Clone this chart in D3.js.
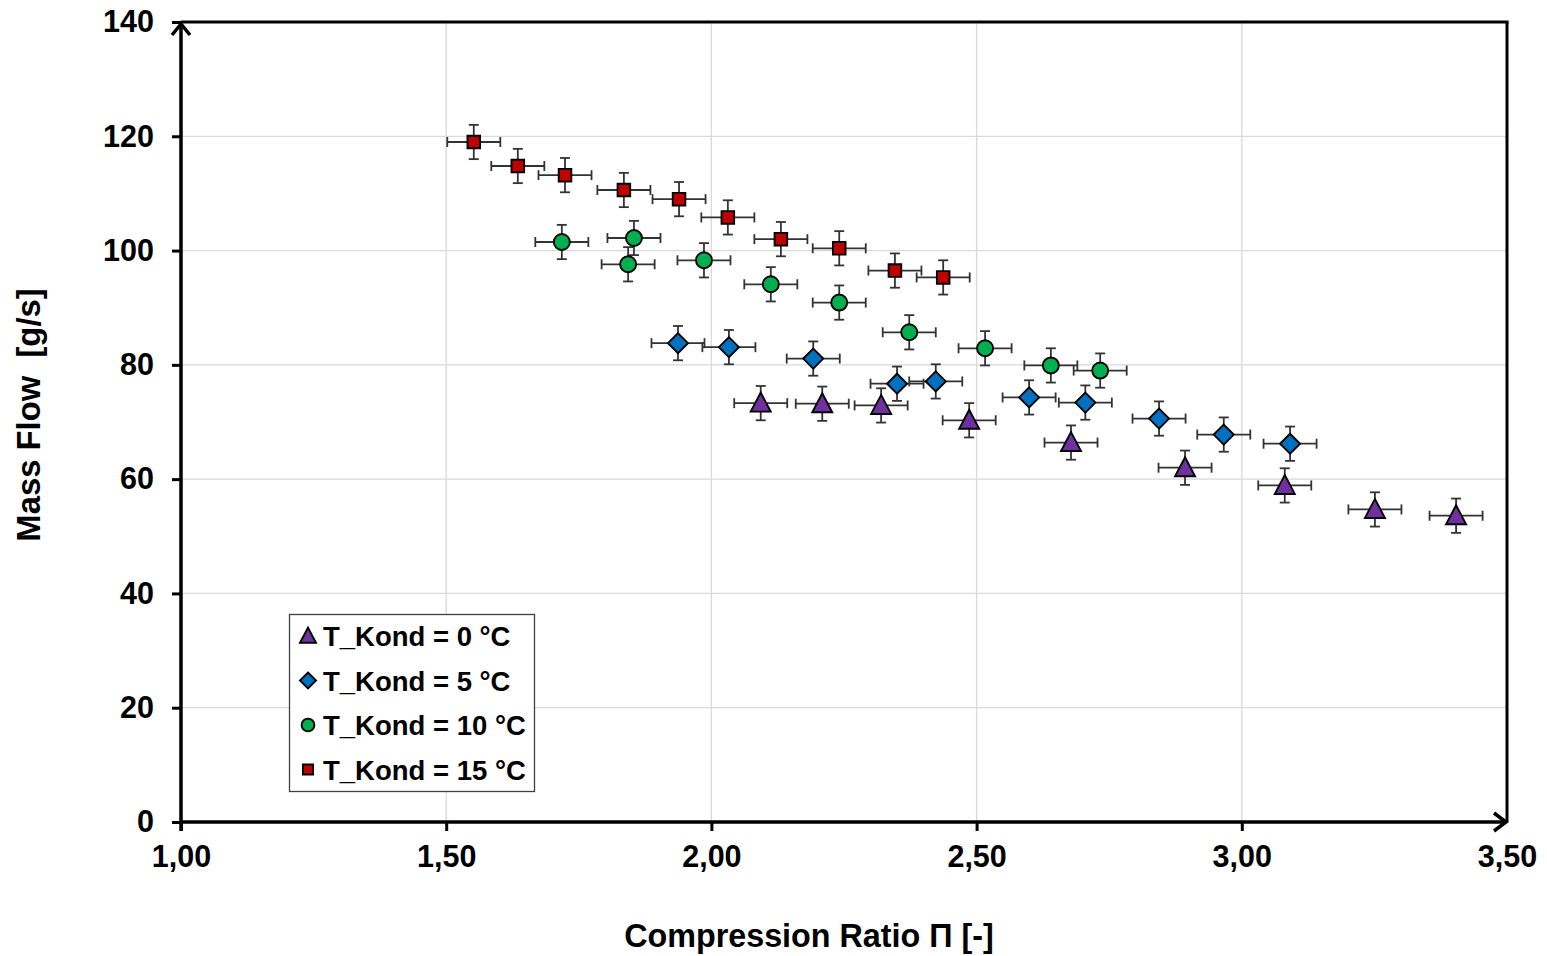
<!DOCTYPE html>
<html><head><meta charset="utf-8">
<script src="https://cdn.jsdelivr.net/npm/d3@7"></script>
<style>body{margin:0;background:#fff;} svg{display:block;font-family:"Liberation Sans",Arial,sans-serif;font-weight:bold;}</style>
</head><body>
<svg id="c" width="1547" height="956"></svg>
<script>
const xTicks = [1.0, 1.5, 2.0, 2.5, 3.0, 3.5];
const yTicks = [0, 20, 40, 60, 80, 100, 120, 140];
const seriesNames = ["T_Kond = 0 °C", "T_Kond = 5 °C", "T_Kond = 10 °C", "T_Kond = 15 °C"];
const seriesColors = ["#7030a0", "#0070c0", "#00b050", "#c00000"];
const seriesShapes = ["triangle", "diamond", "circle", "square"];
const xErr = 0.05;
const yErr = 3;
const x0 = [2.093, 2.209, 2.320, 2.486, 2.678, 2.893, 3.081, 3.251, 3.404];
const y0 = [73.3, 73.2, 72.9, 70.3, 66.4, 62.0, 58.9, 54.7, 53.6];
const x5 = [1.937, 2.033, 2.192, 2.350, 2.423, 2.599, 2.705, 2.844, 2.966, 3.091];
const y5 = [83.8, 83.1, 81.1, 76.7, 77.1, 74.3, 73.4, 70.6, 67.8, 66.2];
const x10 = [1.718, 1.854, 1.843, 1.986, 2.112, 2.241, 2.373, 2.516, 2.640, 2.733];
const y10 = [101.5, 102.2, 97.6, 98.3, 94.1, 90.9, 85.7, 82.9, 79.9, 79.0];
const x15 = [1.552, 1.635, 1.724, 1.835, 1.939, 2.031, 2.131, 2.241, 2.346, 2.437];
const y15 = [119.0, 114.8, 113.2, 110.6, 109.0, 105.8, 102.0, 100.4, 96.5, 95.3];
const seriesX = [x0, x5, x10, x15];
const seriesY = [y0, y5, y10, y15];

const svg = d3.select("#c");
const L = 181, T = 22, R = 1507, B = 822;
const x = d3.scaleLinear().domain([1, 3.5]).range([L, R]);
const y = d3.scaleLinear().domain([0, 140]).range([B, T]);
const fmt = v => d3.format(".2f")(v).replace(".", ",");

// grid
const g = svg.append("g");
g.selectAll("line.gx").data(xTicks.filter(v => v > 1 && v < 3.5)).join("line")
  .attr("x1", d => x(d)).attr("x2", d => x(d)).attr("y1", T).attr("y2", B)
  .attr("stroke", "#d9d9d9").attr("stroke-width", 1.3);
g.selectAll("line.gy").data(yTicks.filter(v => v > 0 && v < 140)).join("line")
  .attr("x1", L).attr("x2", R).attr("y1", d => y(d)).attr("y2", d => y(d))
  .attr("stroke", "#d9d9d9").attr("stroke-width", 1.3);

// frame top and right
svg.append("line").attr("x1", L).attr("x2", R + 1.5).attr("y1", T).attr("y2", T).attr("stroke", "#000").attr("stroke-width", 3);
svg.append("line").attr("x1", R).attr("x2", R).attr("y1", T).attr("y2", B).attr("stroke", "#000").attr("stroke-width", 3);

// axes
const xAxis = d3.axisBottom(x).tickValues(xTicks).tickFormat(fmt).tickSize(9).tickPadding(14);
const yAxis = d3.axisLeft(y).tickValues(yTicks).tickFormat(d3.format("d")).tickSize(9).tickPadding(18);
const gx = svg.append("g").attr("transform", `translate(0,${B})`).call(xAxis);
const gy = svg.append("g").attr("transform", `translate(${L},0)`).call(yAxis);
[gx, gy].forEach(a => {
  a.select(".domain").remove();
  a.selectAll(".tick line").attr("stroke", "#000").attr("stroke-width", 3);
  a.selectAll(".tick text").attr("fill", "#000").attr("font-size", 30.5).attr("font-weight", "bold")
    .attr("font-family", "'Liberation Sans', Arial, sans-serif");
});
gx.selectAll(".tick").filter(d => d === 3.5).select("line").remove();

// axis lines with arrows
svg.append("line").attr("x1", L).attr("x2", L).attr("y1", B + 9).attr("y2", T + 2).attr("stroke", "#000").attr("stroke-width", 3.5);
svg.append("path").attr("d", `M${L - 9},${T + 13} L${L},${T + 2} L${L + 9},${T + 13}`).attr("fill", "none").attr("stroke", "#000").attr("stroke-width", 3.5);
svg.append("line").attr("x1", L).attr("x2", R - 1).attr("y1", B).attr("y2", B).attr("stroke", "#000").attr("stroke-width", 3.5);
svg.append("path").attr("d", `M${R - 13},${B - 9} L${R - 1},${B} L${R - 13},${B + 9}`).attr("fill", "none").attr("stroke", "#000").attr("stroke-width", 3.5);

// titles
svg.append("text").attr("x", 809).attr("y", 947).attr("text-anchor", "middle").attr("font-size", 32.3).text("Compression Ratio Π [-]");
svg.append("text").attr("transform", "translate(40,415) rotate(-90)").attr("text-anchor", "middle").attr("font-size", 32.8)
  .attr("xml:space", "preserve").style("white-space", "pre").text("Mass Flow  [g/s]");

// marker shapes
function shapePath(shape) {
  if (shape === "triangle") return "M0,-10.5 L10,8.5 L-10,8.5 Z";
  if (shape === "diamond") return "M0,-10 L10,0 L0,10 L-10,0 Z";
  if (shape === "square") return "M-6.3,-6.3 L6.3,-6.3 L6.3,6.3 L-6.3,6.3 Z";
  return null;
}
function drawMarker(sel, shape, color, scale) {
  if (shape === "circle") {
    sel.append("circle").attr("r", 8 * scale).attr("fill", color).attr("stroke", "#000").attr("stroke-width", 1.9);
  } else {
    sel.append("path").attr("d", shapePath(shape)).attr("transform", `scale(${scale})`)
      .attr("fill", color).attr("stroke", "#000").attr("stroke-width", 1.9 / scale);
  }
}

const errColor = "#333";
seriesX.forEach((xs, si) => {
  const ys = seriesY[si];
  const pts = xs.map((v, i) => ({ x: v, y: ys[i] }));
  const eg = svg.append("g").attr("stroke", errColor).attr("stroke-width", 1.8);
  pts.forEach(p => {
    const cx = x(p.x), cy = y(p.y);
    const xl = x(p.x - xErr), xr = x(p.x + xErr), yt = y(p.y + yErr), yb = y(p.y - yErr);
    eg.append("line").attr("x1", xl).attr("x2", xr).attr("y1", cy).attr("y2", cy);
    eg.append("line").attr("x1", xl).attr("x2", xl).attr("y1", cy - 5).attr("y2", cy + 5);
    eg.append("line").attr("x1", xr).attr("x2", xr).attr("y1", cy - 5).attr("y2", cy + 5);
    eg.append("line").attr("x1", cx).attr("x2", cx).attr("y1", yt).attr("y2", yb);
    eg.append("line").attr("x1", cx - 5).attr("x2", cx + 5).attr("y1", yt).attr("y2", yt);
    eg.append("line").attr("x1", cx - 5).attr("x2", cx + 5).attr("y1", yb).attr("y2", yb);
  });
  pts.forEach(p => {
    const m = svg.append("g").attr("transform", `translate(${x(p.x)},${y(p.y)})`);
    drawMarker(m, seriesShapes[si], seriesColors[si], 1);
  });
});

// legend
const lg = svg.append("g");
lg.append("rect").attr("x", 289.5).attr("y", 614.5).attr("width", 245).attr("height", 177)
  .attr("fill", "#fff").attr("stroke", "#404040").attr("stroke-width", 1.3);
seriesNames.forEach((n, i) => {
  const cy = 636 + i * 44.5;
  const m = lg.append("g").attr("transform", `translate(308,${cy})`);
  drawMarker(m, seriesShapes[i], seriesColors[i], 0.8);
  lg.append("text").attr("x", 323).attr("y", cy + 10).attr("font-size", 27.5).text(n);
});
</script>
</body></html>
